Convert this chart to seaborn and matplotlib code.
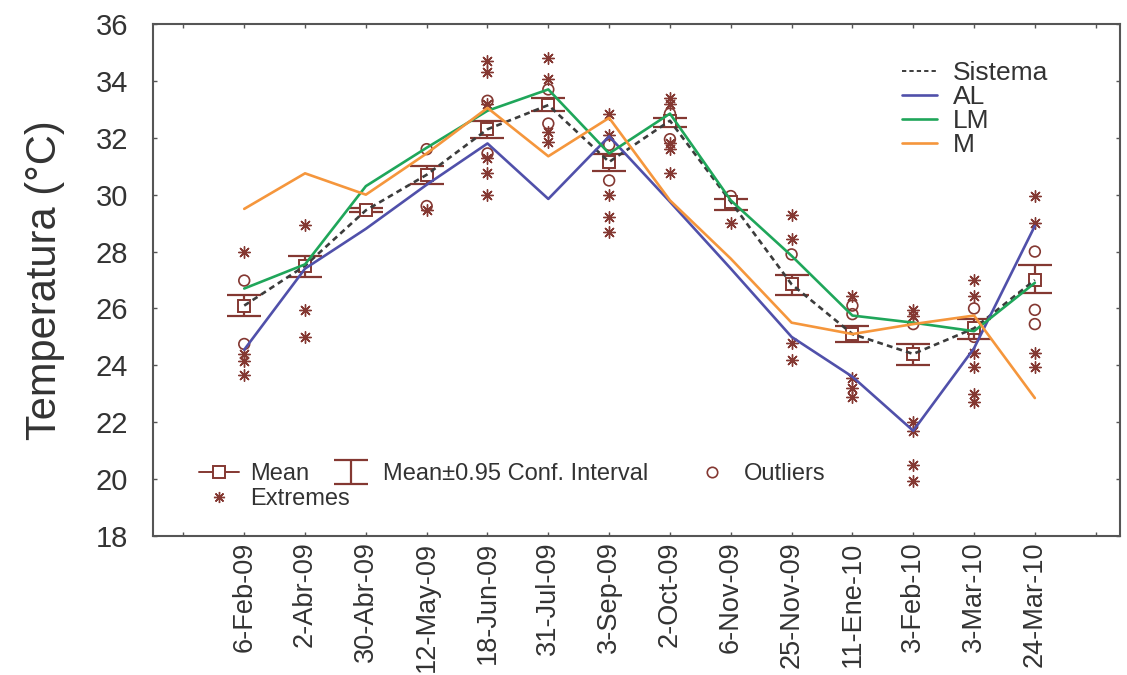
import numpy as np
import pandas as pd
import matplotlib
matplotlib.use("Agg")
import matplotlib.pyplot as plt
from matplotlib.lines import Line2D
import seaborn as sns

# Sampling dates
fechas = ["6-Feb-09", "2-Abr-09", "30-Abr-09", "12-May-09", "18-Jun-09", "31-Jul-09",
          "3-Sep-09", "2-Oct-09", "6-Nov-09", "25-Nov-09", "11-Ene-10", "3-Feb-10",
          "3-Mar-10", "24-Mar-10"]

# Mean temperature of the whole system (also drawn as the dashed "Sistema" line)
media = [26.1, 27.5, 29.45, 30.7, 32.3, 33.15, 31.15, 32.6, 29.75, 26.85, 25.1, 24.4, 25.3, 27.0]
ic_inf = [25.72, 27.12, 29.38, 30.37, 32.0, 32.95, 30.82, 32.39, 29.46, 26.49, 24.82, 24.0, 24.94, 26.54]
ic_sup = [26.46, 27.86, 29.52, 31.0, 32.6, 33.39, 31.42, 32.71, 29.85, 27.16, 25.4, 24.74, 25.64, 27.51]

# Temperature by site
al = [24.55, 27.4, 28.8, 30.35, 31.8, 29.85, 32.05, 29.75, 27.4, 25.0, 23.6, 21.7, 24.6, 28.9]
lm = [26.7, 27.55, 30.3, 31.65, 32.95, 33.7, 31.45, 32.85, 29.8, 27.85, 25.75, 25.5, 25.2, 26.9]
m = [29.5, 30.75, 30.0, 31.45, 33.05, 31.35, 32.7, 29.8, 27.75, 25.5, 25.1, 25.45, 25.75, 22.85]

# Outliers and extremes for each date
atipicos = [[26.98, 24.75], [], [], [31.6, 29.6], [33.3, 31.45], [33.7, 32.5],
            [31.75, 30.5], [32.85, 31.95], [29.95], [27.9], [26.1, 25.8],
            [25.45], [26.0, 25.0], [28.0, 25.95, 25.45]]
extremos = [[28.0, 24.4, 24.15, 23.65], [28.95, 25.95, 25.0], [], [29.45],
            [34.7, 34.3, 33.2, 31.3, 30.75, 30.0], [34.8, 34.05, 32.2, 31.85],
            [32.85, 32.1, 30.0, 29.2, 28.7], [33.4, 33.2, 31.8, 31.6, 30.75],
            [29.0], [29.3, 28.45, 24.8, 24.2], [26.45, 23.55, 23.2, 22.9],
            [25.95, 25.75, 22.0, 21.7, 20.5, 19.95],
            [27.0, 26.45, 24.45, 23.95, 23.0, 22.7], [29.95, 29.0, 24.45, 23.95]]

series = ["Sistema", "AL", "LM", "M"]
y_ticks = [18, 20, 22, 24, 26, 28, 30, 32, 34, 36]

pos = np.arange(1, len(fechas) + 1)

BROWN = "#843832"
TEXT = "#333333"
colores = {"Sistema": "#3c3c3c", "AL": "#5050aa", "LM": "#1fa65a", "M": "#f5963c"}
trazos = {"Sistema": (2.2, 1.6), "AL": "", "LM": "", "M": ""}

sns.set_theme(style="ticks")
plt.rcParams["font.family"] = ["Liberation Sans", "DejaVu Sans"]
plt.rcParams["text.color"] = TEXT
NARROW = ["Liberation Sans Narrow", "Liberation Sans", "DejaVu Sans"]

lineas = pd.DataFrame({
    "pos": np.tile(pos, 4),
    "temp": media + al + lm + m,
    "serie": np.repeat(series, len(fechas)),
})
puntos_at = pd.DataFrame([(p, v) for p, vals in zip(pos, atipicos) for v in vals],
                         columns=["pos", "temp"])
puntos_ex = pd.DataFrame([(p, v) for p, vals in zip(pos, extremos) for v in vals],
                         columns=["pos", "temp"])

fig = plt.figure(figsize=(11.27, 6.75), dpi=100)
ax = fig.add_axes([153 / 1127, 1 - 536 / 675, (1120 - 153) / 1127, (536 - 24) / 675])

# Outliers and extremes
sns.scatterplot(data=puntos_at, x="pos", y="temp", ax=ax, marker="o", s=60,
                facecolor="none", edgecolor=BROWN, linewidth=1.2, zorder=2, legend=False)
sns.scatterplot(data=puntos_ex, x="pos", y="temp", ax=ax, marker=(8, 2, 0), s=70,
                color=BROWN, edgecolor=BROWN, linewidth=1.0, zorder=2, legend=False)

# Confidence interval and mean
err = [np.array(media) - np.array(ic_inf), np.array(ic_sup) - np.array(media)]
ci = ax.errorbar(pos, media, yerr=err, fmt="none", ecolor=BROWN, elinewidth=1.6,
                 capsize=12.5, capthick=1.6, zorder=3)
ax.plot(pos, media, ls="none", marker="s", ms=8, mfc="white", mec=BROWN, mew=1.4, zorder=4)

# Series lines
sns.lineplot(data=lineas, x="pos", y="temp", hue="serie", style="serie",
             hue_order=series, style_order=series, palette=colores, dashes=trazos,
             linewidth=1.9, ax=ax, zorder=5)
for ln in ax.get_lines():
    if ln.get_label() == "Sistema":
        ln.set_linewidth(1.4)
h, l = ax.get_legend_handles_labels()
h_lines = [h[l.index(s)] for s in series]
for hh, s in zip(h_lines, series):
    hh.set_linewidth(1.4 if s == "Sistema" else 1.9)

ax.set_xlim(-0.5, 15.4)
ax.set_ylim(18, 36)
ax.set_xticks(np.arange(0, 16))
ax.set_xticklabels([""] + fechas + [""], rotation=90, fontsize=19.5, family=NARROW, color=TEXT)
ax.set_yticks(y_ticks)
ax.set_yticklabels([str(t) for t in y_ticks], fontsize=21, color=TEXT)
ax.set_xlabel("")
ax.set_ylabel("Temperatura (\u00b0C)", fontsize=30, family=NARROW, color=TEXT, labelpad=22)

ax.tick_params(axis="both", direction="in", length=3, width=1.0, color="#555555",
               top=True, right=True)
ax.tick_params(axis="y", pad=18)
ax.tick_params(axis="x", pad=4)
for sp in ax.spines.values():
    sp.set_color("#555555")
    sp.set_linewidth(1.5)

leg1 = ax.legend(h_lines, series, loc="upper left", bbox_to_anchor=(0.755, 0.963),
                 frameon=False, fontsize=19, handlelength=1.35, handletextpad=0.6,
                 labelspacing=0.0, borderpad=0.2)
ax.add_artist(leg1)

h_mean = Line2D([], [], color=BROWN, lw=1.4, marker="s", ms=8, mfc="white", mec=BROWN, mew=1.4)
h_out = Line2D([], [], ls="none", marker="o", ms=7.5, mfc="none", mec=BROWN, mew=1.2)
h_ext = Line2D([], [], ls="none", marker=(8, 2, 0), ms=8, color=BROWN, mew=1.0)
leg_kw = dict(frameon=False, fontsize=17, handlelength=1.7, handletextpad=0.5, borderpad=0.2)
leg2 = ax.legend([h_mean, ci], ["Mean", "Mean\u00b10.95 Conf. Interval"], ncol=2,
                 loc="lower left", bbox_to_anchor=(0.03, 0.067), columnspacing=0.9, **leg_kw)
ax.add_artist(leg2)
leg_out = ax.legend([h_out], ["Outliers"], loc="lower left", bbox_to_anchor=(0.540, 0.067),
                    **leg_kw)
ax.add_artist(leg_out)
leg3 = ax.legend([h_ext], ["Extremes"], loc="lower left", bbox_to_anchor=(0.03, 0.018),
                 **leg_kw)

fig.savefig("out.png", dpi=100)
